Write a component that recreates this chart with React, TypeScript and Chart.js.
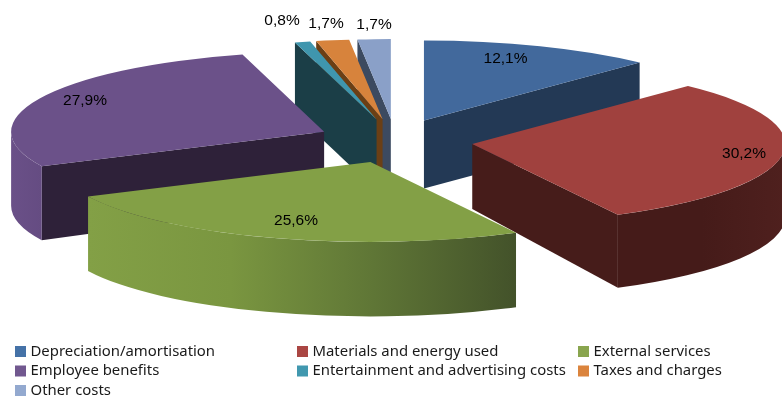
import React, { useEffect, useRef } from "react";
import { Chart, registerables } from "chart.js";

Chart.register(...registerables);

const categories = [
  "Depreciation/amortisation",
  "Materials and energy used",
  "External services",
  "Employee benefits",
  "Entertainment and advertising costs",
  "Taxes and charges",
  "Other costs",
];
const shares = [12.1, 30.2, 25.6, 27.9, 0.8, 1.7, 1.7];
const shareLabels = ["12,1%", "30,2%", "25,6%", "27,9%", "0,8%", "1,7%", "1,7%"];

const topColors = ["#42699c", "#a0413e", "#83a046", "#6b5189", "#3f96ae", "#d7833c", "#8aa0c8"];
const sideColors = ["#233955", "#461c1a", "#43522a", "#2e2139", "#1b3e47", "#6b3f15", "#3c4a60"];
const swatchColors = ["#4572a7", "#aa4643", "#89a54e", "#71588f", "#4198af", "#db843d", "#93a9cf"];

// Rim shading across the curved wall, left to right, for each slice.
const rimStops: string[][] = [
  ["#233955", "#233955"],
  ["#451b19", "#451b19", "#4f201e"],
  ["#83a046", "#7a9640", "#5f7636", "#43522a"],
  ["#6a5088", "#654c82"],
  ["#1b3e47", "#1b3e47"],
  ["#6b3f15", "#6b3f15"],
  ["#3c4a60", "#3c4a60"],
];

// Pie projection.
const CENTER_X = 395;
const CENTER_Y = 141;
const RADIUS_X = 313;
const RADIUS_Y = 80;
const EXPLODE_X = 78;
const EXPLODE_Y = 22;

// Extrusion seen at the rim and at the apex of each slice: nearer parts look deeper.
const rimDepths = [68, 73, 74.5, 74, 71, 71, 71];
const apexDepths = [68, 65, 74.5, 70, 71, 71, 71];

// Painted from the back of the pie to the front.
const paintOrder = [6, 5, 4, 0, 3, 1, 2];

const labelAnchors = [
  [505.5, 59],
  [744, 154],
  [296, 221],
  [85, 101],
  [282, 21],
  [326, 24],
  [374, 25],
];

const legendColumns = [15, 297, 578];
const legendRows = [351.5, 371, 390.5];

const pie3d = {
  id: "pie3d",
  beforeDatasetsDraw(chart: any) {
    const ctx: CanvasRenderingContext2D = chart.ctx;
    const arcs = chart.getDatasetMeta(0).data;

    for (const i of paintOrder) {
      const arc = arcs[i];
      const a0: number = arc.startAngle;
      const a1: number = arc.endAngle;
      const mid = (a0 + a1) / 2;
      const cx = CENTER_X + EXPLODE_X * Math.cos(mid);
      const cy = CENTER_Y + EXPLODE_Y * Math.sin(mid);
      const px = (a: number) => cx + RADIUS_X * Math.cos(a);
      const py = (a: number) => cy + RADIUS_Y * Math.sin(a);
      const rimDepth = rimDepths[i];
      const apexDepth = apexDepths[i];

      // Cut faces turned towards the viewer.
      ctx.fillStyle = sideColors[i];
      for (const [edge, normal] of [
        [a0, a0 - Math.PI / 2],
        [a1, a1 + Math.PI / 2],
      ]) {
        if (Math.sin(normal) > 0.001) {
          ctx.beginPath();
          ctx.moveTo(cx, cy);
          ctx.lineTo(px(edge), py(edge));
          ctx.lineTo(px(edge), py(edge) + rimDepth);
          ctx.lineTo(cx, cy + apexDepth);
          ctx.closePath();
          ctx.fill();
        }
      }

      // Curved wall: only the front half of the rim is ever seen.
      const from = Math.max(a0, 0);
      const to = Math.min(a1, Math.PI);
      if (to > from) {
        const shade = ctx.createLinearGradient(px(to), 0, px(from), 0);
        const stops = rimStops[i];
        stops.forEach((c, k) => shade.addColorStop(k / (stops.length - 1), c));
        ctx.fillStyle = shade;
        ctx.beginPath();
        ctx.ellipse(cx, cy, RADIUS_X, RADIUS_Y, 0, from, to);
        ctx.ellipse(cx, cy + rimDepth, RADIUS_X, RADIUS_Y, 0, to, from, true);
        ctx.closePath();
        ctx.fill();
      }

      // Top face: the library's own arc element, seen through the tilt.
      ctx.save();
      ctx.translate(cx, cy);
      ctx.scale(RADIUS_X / arc.outerRadius, RADIUS_Y / arc.outerRadius);
      ctx.translate(-arc.x, -arc.y);
      arc.draw(ctx);
      ctx.restore();
    }
    return false;
  },
  afterDraw(chart: any) {
    const ctx: CanvasRenderingContext2D = chart.ctx;
    ctx.save();
    ctx.textBaseline = "middle";

    ctx.font = '15.5px "Liberation Sans"';
    ctx.fillStyle = "#000000";
    ctx.textAlign = "center";
    shareLabels.forEach((text, i) => {
      ctx.fillText(text, labelAnchors[i][0], labelAnchors[i][1]);
    });

    ctx.font = '14.9px "Noto Sans"';
    ctx.textAlign = "left";
    categories.forEach((name, i) => {
      const x = legendColumns[i % 3];
      const y = legendRows[Math.floor(i / 3)];
      ctx.fillStyle = swatchColors[i];
      ctx.fillRect(x, y - 5.5, 11, 11);
      ctx.fillStyle = "#1a1a1a";
      ctx.fillText(name, x + 15.5, y);
    });
    ctx.restore();
  },
};

export default function App() {
  const canvasRef = useRef<HTMLCanvasElement>(null);

  useEffect(() => {
    const chart = new Chart(canvasRef.current as HTMLCanvasElement, {
      type: "pie",
      data: {
        labels: categories,
        datasets: [
          {
            data: shares,
            backgroundColor: topColors,
            borderWidth: 0,
          },
        ],
      },
      options: {
        responsive: false,
        animation: false,
        events: [],
        rotation: 0,
        radius: RADIUS_X,
        plugins: {
          legend: { display: false },
          tooltip: { enabled: false },
        },
      },
      plugins: [pie3d],
    } as any);
    return () => chart.destroy();
  }, []);

  return (
    <div style={{ position: "fixed", left: 0, top: 0, width: 782, height: 397, background: "#ffffff" }}>
      <canvas ref={canvasRef} width={782} height={397} style={{ display: "block" }} />
    </div>
  );
}
